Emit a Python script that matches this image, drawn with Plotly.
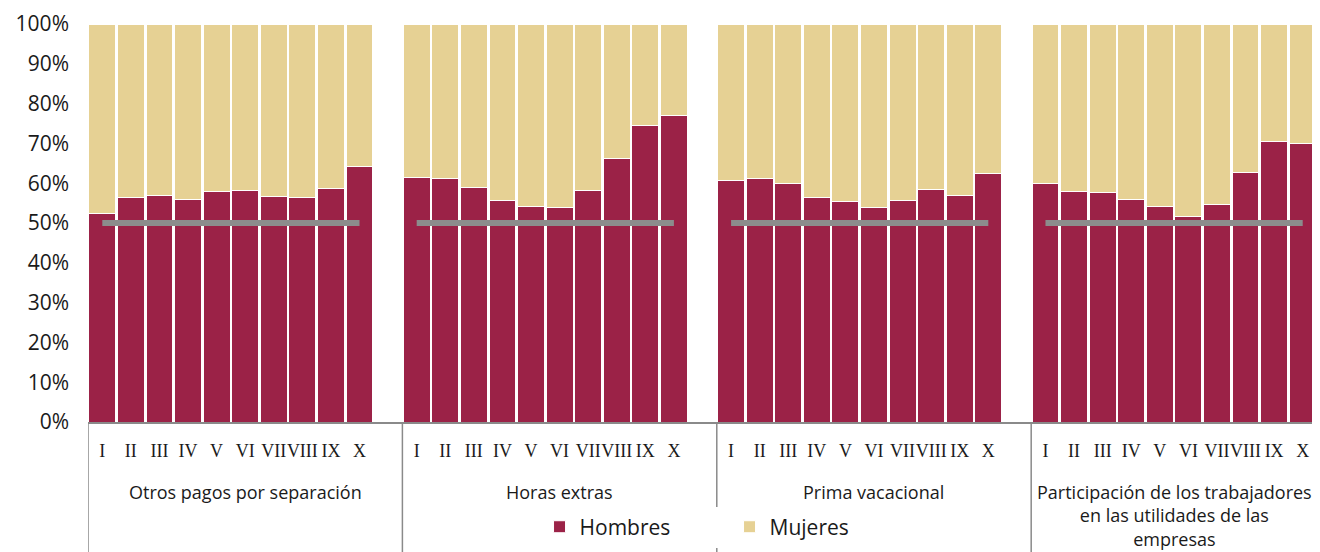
# Participación por sexo en percepciones por decil: barras 100% apiladas con referencia al 50%.
import plotly.graph_objects as go

GROUPS = ["Otros pagos por separación", "Horas extras", "Prima vacacional",
          "Participación de los trabajadores<br>en las utilidades de las<br>empresas"]
DECILES = ["I", "II", "III", "IV", "V", "VI", "VII", "VIII", "IX", "X"]

hombres = [
    [0.523, 0.564, 0.568, 0.558, 0.578, 0.582, 0.566, 0.565, 0.586, 0.643],  # Otros pagos por separación
    [0.614, 0.611, 0.589, 0.557, 0.541, 0.538, 0.581, 0.661, 0.744, 0.769],  # Horas extras
    [0.608, 0.611, 0.600, 0.563, 0.555, 0.539, 0.557, 0.584, 0.570, 0.624],  # Prima vacacional
    [0.600, 0.580, 0.576, 0.558, 0.542, 0.516, 0.546, 0.628, 0.706, 0.700],  # PTU
]
mujeres = [[round(1 - v, 3) for v in g] for g in hombres]
REFERENCIA = 0.5

MAROON = "#9B2247"
BEIGE = "#E6D194"
GRAY = "#8C8C8C"

# posiciones: 10 barras por grupo + un hueco vacío entre grupos (como en Excel)
xs, yh, ym, tv, tt = [], [], [], [], []
starts = []
pos = 0
for gi, g in enumerate(GROUPS):
    starts.append(pos)
    for di, d in enumerate(DECILES):
        xs.append(pos)
        yh.append(hombres[gi][di])
        ym.append(mujeres[gi][di])
        tv.append(pos)
        tt.append(d)
        pos += 1
    if gi < len(GROUPS) - 1:
        pos += 1
n_slots = pos

fig = go.Figure()
fig.add_trace(go.Bar(x=xs, y=yh, name="Hombres", marker=dict(color=MAROON, line=dict(color="white", width=1))))
fig.add_trace(go.Bar(x=xs, y=ym, name="Mujeres", marker=dict(color=BEIGE, line=dict(color="white", width=1))))

for s in starts:
    fig.add_trace(go.Scatter(x=[s, s + len(DECILES) - 1], y=[REFERENCIA, REFERENCIA], mode="lines",
                             line=dict(color=GRAY, width=6), showlegend=False, hoverinfo="skip"))

# divisores verticales y etiquetas de grupo
bounds = [s - 0.5 for s in starts] + [n_slots - 0.5]
for b in bounds:
    fig.add_shape(type="line", xref="x", yref="paper", x0=b, x1=b, y0=0, y1=-0.34,
                  line=dict(color="#8a8a8a", width=1.5))
for gi, g in enumerate(GROUPS):
    fig.add_annotation(x=(bounds[gi] + bounds[gi + 1]) / 2, y=-0.14, xref="x", yref="paper",
                       text=g, showarrow=False, yanchor="top", xanchor="center",
                       font=dict(family="Open Sans", size=18, color="#1a1a1a"))

# la página añade 8 px de margen al cuerpo: se compensa en tamaño y márgenes
fig.update_layout(
    barmode="stack", bargap=0.06,
    width=1312, height=544,
    margin=dict(l=80, r=3, t=16, b=130),
    plot_bgcolor="white", paper_bgcolor="white",
    font=dict(family="Open Sans", color="#1a1a1a"),
    legend=dict(orientation="h", x=0.522, xanchor="center", y=-0.264, yanchor="middle",
                font=dict(size=21), entrywidth=145, itemwidth=30, traceorder="normal"),
    xaxis=dict(range=[-0.5, n_slots - 0.5], tickvals=tv, ticktext=tt, showgrid=False,
               showline=True, linecolor="#8a8a8a", linewidth=1.5, ticks="", zeroline=False,
               tickangle=0,
               tickfont=dict(family="Liberation Serif", size=18, color="#1a1a1a"),
               ticklabelstandoff=12, automargin=False),
    yaxis=dict(range=[0, 1], dtick=0.1, tickformat=".0%", showgrid=False, zeroline=False,
               showline=False, tickfont=dict(size=21), ticklabelstandoff=18, automargin=False),
)

fig.write_html("out.html")
